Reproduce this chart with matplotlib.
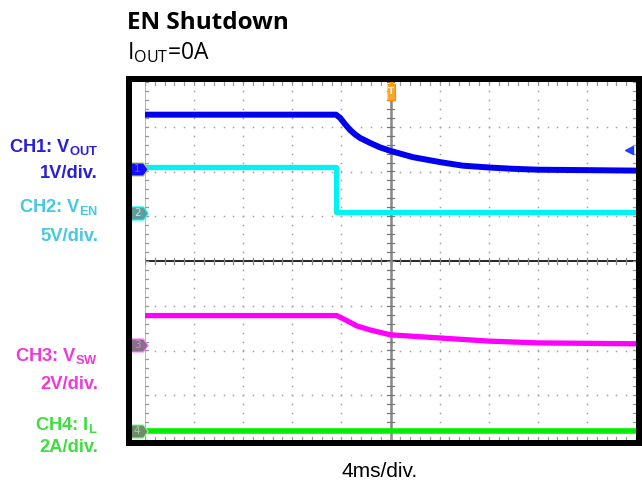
import numpy as np
import matplotlib
matplotlib.use("Agg")
from matplotlib import pyplot as plt

plt.rcParams['mathtext.fontset'] = 'custom'
plt.rcParams['mathtext.default'] = 'regular'

# scope settings
ms_per_div = 4
volts_per_div = {'CH1': 1, 'CH2': 5, 'CH3': 2, 'CH4': 2}
ground_div = {'CH1': 2.06, 'CH2': 1.07, 'CH3': -1.87, 'CH4': -3.80}

# CH1 VOUT (V)
t_vout = [-20, -4.44, -4.11, -3.71, -3.30, -2.89, -2.48, -1.67, -0.86, 0.0, 1.83, 4.03, 5.9, 8.0, 10.0, 12.0, 20.0]
vout = [1.21, 1.21, 1.14, 1.00, 0.87, 0.77, 0.69, 0.58, 0.48, 0.40, 0.26, 0.15, 0.07, 0.03, 0.0, -0.02, -0.04]
# CH2 VEN (V)
t_ven = [-20, -4.44, -4.44, 20]
ven = [5.2, 5.2, 0.1, 0.1]
# CH3 VSW (V)
t_vsw = [-20, -4.38, -3.57, -2.75, -1.67, 0.0, 4.03, 8.0, 12.0, 20.0]
vsw = [1.30, 1.30, 1.08, 0.84, 0.66, 0.44, 0.30, 0.16, 0.08, 0.04]
# CH4 IL (A)
t_il = [-20, 20]
il = [0.0, 0.0]

trig_level_v = 0.41

W, H = 642, 482
fig = plt.figure(figsize=(W / 100, H / 100), dpi=100)

def fx(x):
    return x / W

def fy(y):
    return 1 - y / H

# black scope frame
for (x0, y0, x1, y1) in [(126, 76, 642, 82), (126, 440, 642, 446), (126, 76, 132, 446), (636, 76, 642, 446)]:
    fig.add_artist(plt.Rectangle((fx(x0), fy(y1)), fx(x1) - fx(x0), fy(y0) - fy(y1),
                                 transform=fig.transFigure, color='black', lw=0))

ax = fig.add_axes([fx(145), fy(440), fx(636) - fx(145), fy(82) - fy(440)])
ax.set_xlim(-5, 5)
ax.set_ylim(-4, 4)
ax.axis('off')

# graticule dots
dot_col = '#a0a0a0'
for k in range(-4, 5):
    if k == 0:
        continue
    yy = np.arange(-4, 4.01, 0.2)
    ax.plot(np.full_like(yy, k), yy, ls='none', marker='s', ms=1.1, color=dot_col, mew=0)
for m in range(-3, 4):
    if m == 0:
        continue
    xx = np.arange(-5, 5.01, 0.2)
    ax.plot(xx, np.full_like(xx, m), ls='none', marker='s', ms=1.1, color=dot_col, mew=0)

# center cross and edges with ticks
ax.axhline(0, color='black', lw=1.2, zorder=2)
ax.axvline(0, color='#888888', lw=1.8, zorder=2)
ax.axvline(-5, color='#aaaaaa', lw=1.2, zorder=2)
for yy in np.arange(-4, 4.01, 0.2):
    ax.plot([-0.07, 0.07], [yy, yy], color='#777777', lw=0.9, zorder=2)
    ax.plot([-5, -4.93], [yy, yy], color='#999999', lw=0.9, zorder=2)
    ax.plot([4.93, 5], [yy, yy], color='#999999', lw=0.9, zorder=2)
for xx in np.arange(-5, 5.01, 0.2):
    ax.plot([xx, xx], [-0.07, 0.07], color='#888888', lw=0.9, zorder=2)
    ax.plot([xx, xx], [3.93, 4], color='#999999', lw=0.9, zorder=2)
    ax.plot([xx, xx], [-4, -3.93], color='#999999', lw=0.9, zorder=2)

# traces
def draw(t, v, ch, color, lw):
    ax.plot(np.array(t) / ms_per_div, np.array(v) / volts_per_div[ch] + ground_div[ch],
            color=color, lw=lw, solid_capstyle='butt', solid_joinstyle='round', zorder=4)

draw(t_ven, ven, 'CH2', '#00f2f2', 3.8)
draw(t_vout, vout, 'CH1', '#0000ee', 4.3)
draw(t_vsw, vsw, 'CH3', '#ff00ff', 3.8)
draw(t_il, il, 'CH4', '#00ee00', 4.0)

# channel ground markers
flag = [(-1, -0.75), (0.45, -0.75), (1, 0), (0.45, 0.75), (-1, 0.75)]
markers = [('CH1', '1', '#1010ff', '#c8c060', '#6060ff'),
           ('CH2', '2', '#5f9c9c', '#00ffff', '#c8e4e4'),
           ('CH3', '3', '#8c6e8c', '#ff80ff', '#b898b8'),
           ('CH4', '4', '#6c8c6c', '#80ff80', '#a8c8a8')]
for ch, num, fc, ec, tc in markers:
    yv = ground_div[ch]
    ax.plot([-5.12], [yv], marker=flag, ms=12.5, mfc=fc, mec=ec, mew=0.8, clip_on=False, zorder=6)
    ax.text(-5.16, yv, num, color=tc, fontsize=7.5, ha='center', va='center', clip_on=False, zorder=7)

# trigger position marker
tbox = [(-0.55, -1), (0.55, -1), (0.55, 1), (-0.55, 1)]
ax.plot([0], [3.78], marker=tbox, ms=11, mfc='#ffa428', mec='#ff8c00', mew=0.8, clip_on=False, zorder=6)
ax.plot([0, 0], [3.95, 4.0], color='#ff9900', lw=2.5, clip_on=False, zorder=6)
ax.text(0, 3.78, 'T', color='white', fontsize=6.5, fontweight='bold', ha='center', va='center', zorder=7)

# trigger level marker
ax.plot([4.86], [trig_level_v / volts_per_div['CH1'] + ground_div['CH1']], marker='<', ms=6,
        color='#2040ff', clip_on=False, zorder=6)

# titles
fig.text(fx(127), fy(29), 'EN Shutdown', family='Open Sans', fontweight='bold', fontsize=17.5)
fig.text(fx(127), fy(59), 'I$_{OUT}$=0A', family='Open Sans', fontsize=16.5)

# channel labels
lab = dict(family='Liberation Sans', fontweight='bold', fontsize=13.2, ha='right', va='baseline')
fig.text(fx(98), fy(152), 'CH1: V$_{OUT}$', color='#2a1fd8', **lab)
fig.text(fx(98), fy(178), '1V/div.', color='#2a1fd8', **lab)
fig.text(fx(98), fy(212), 'CH2: V$_{EN}$', color='#45c8e0', **lab)
fig.text(fx(98), fy(241), '5V/div.', color='#45c8e0', **lab)
fig.text(fx(98), fy(361), 'CH3: V$_{SW}$', color='#f03ad8', **lab)
fig.text(fx(98), fy(389), '2V/div.', color='#f03ad8', **lab)
fig.text(fx(98), fy(430), 'CH4: I$_{L}$', color='#40dd40', **lab)
fig.text(fx(98), fy(452), '2A/div.', color='#40dd40', **lab)

fig.text(fx(380), fy(477), '4ms/div.', family='Liberation Sans', fontsize=15, ha='center', va='baseline')

fig.savefig('out.png', dpi=100)
